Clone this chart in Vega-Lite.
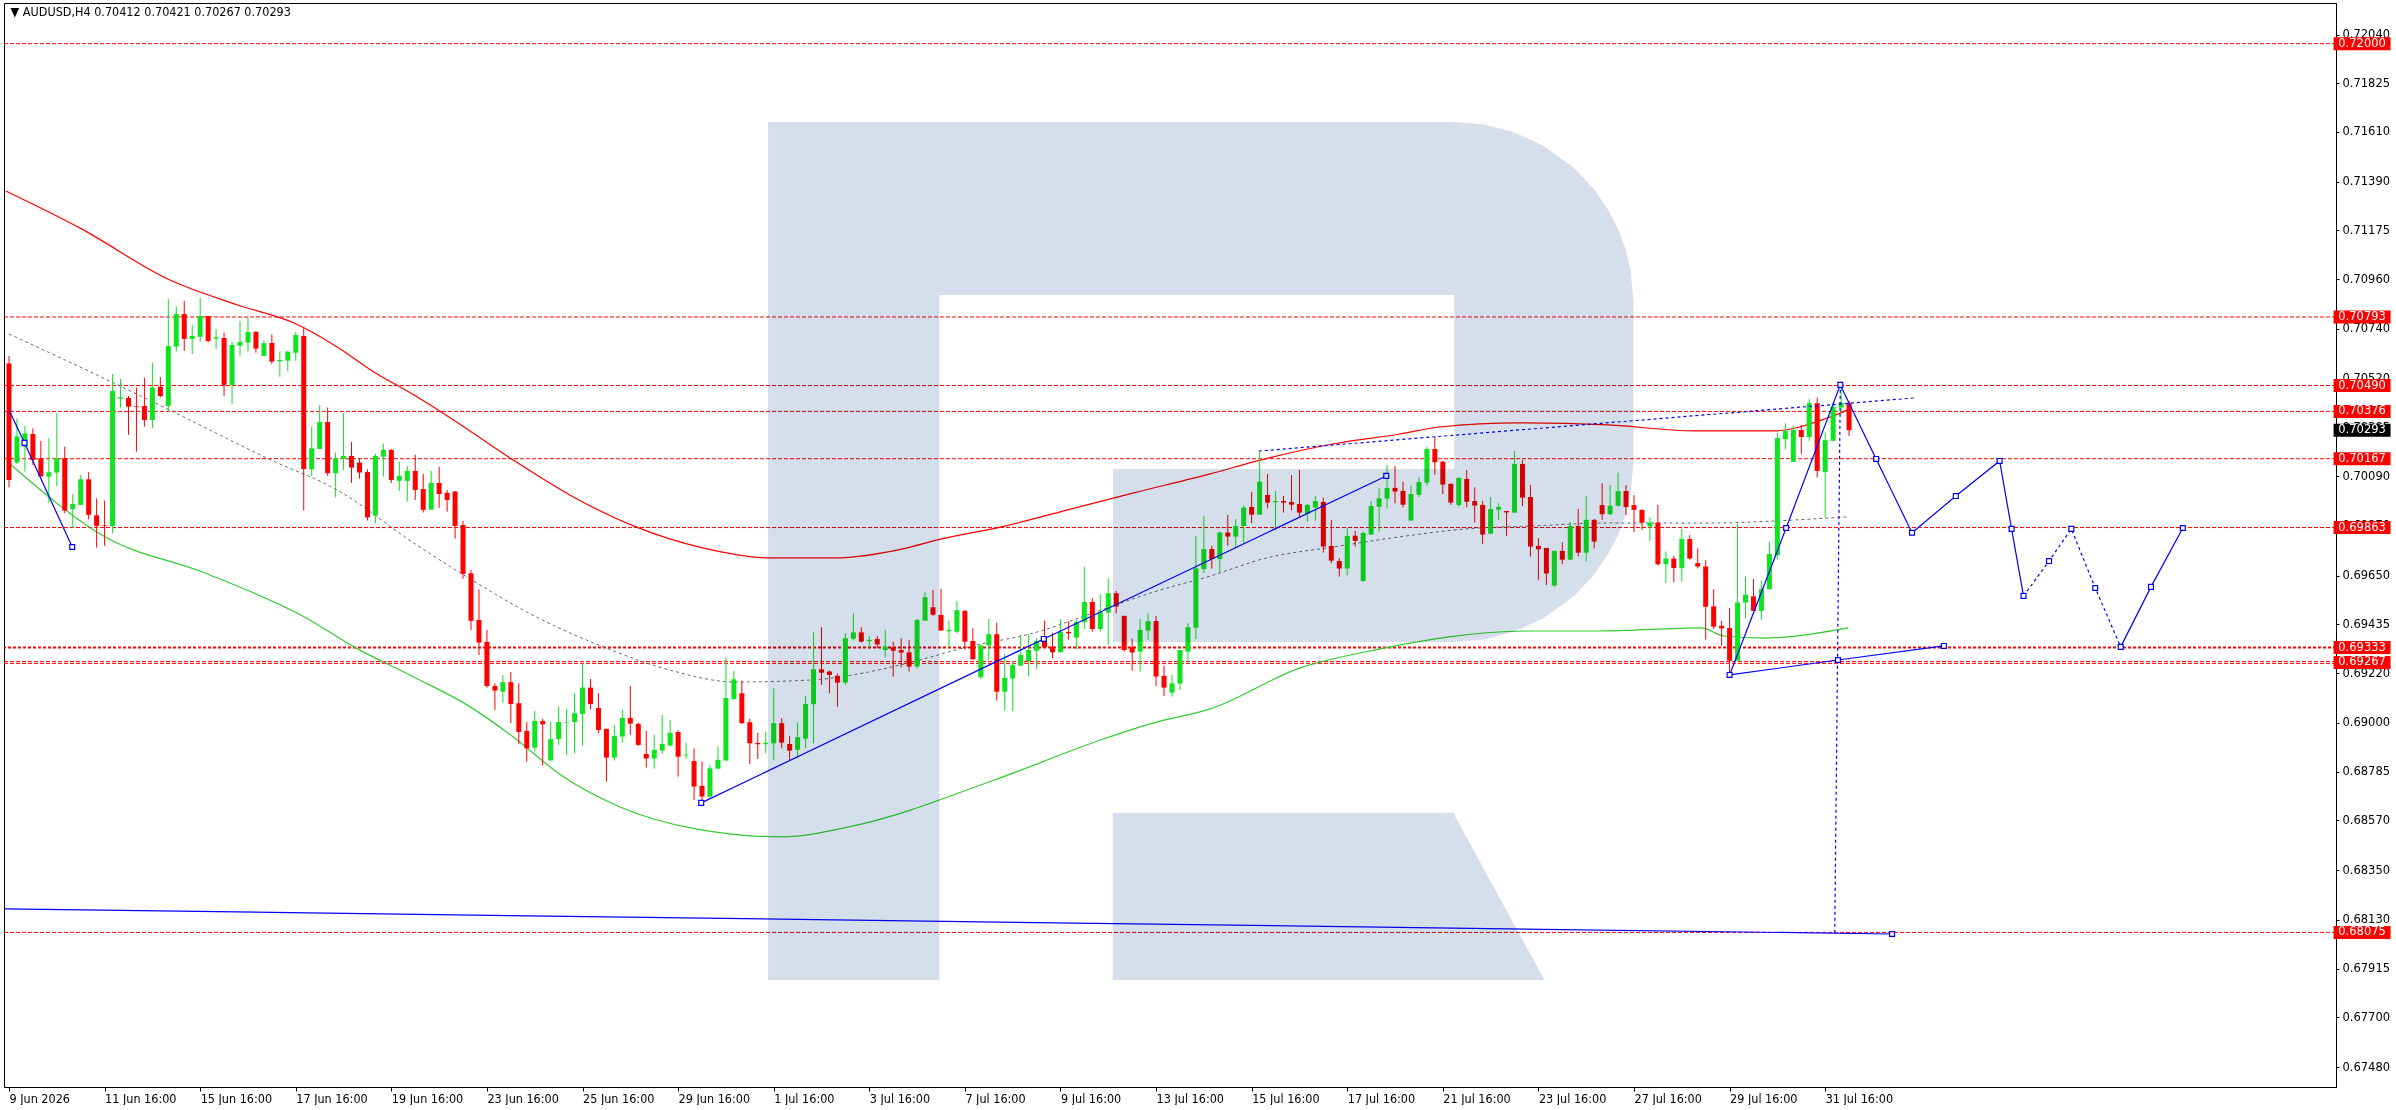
{
  "$schema": "https://vega.github.io/schema/vega-lite/v6.json",
  "description": "AUDUSD H4 candlestick chart with moving averages, levels and forecast path",
  "width": 2332,
  "height": 1084,
  "padding": {"left": 3, "top": 3, "right": 0, "bottom": 0},
  "background": "#ffffff",
  "config": {
    "view": {"stroke": "#000000", "strokeWidth": 1},
    "axis": {"grid": false, "domainColor": "#000000", "tickColor": "#000000", "labelColor": "#000000", "title": null}
  },
  "datasets": {
    "levels": [
      {"p": 0.72000}, {"p": 0.70793}, {"p": 0.70490}, {"p": 0.70376}, {"p": 0.70167},
      {"p": 0.69863}, {"p": 0.69271}, {"p": 0.69263}, {"p": 0.68075}
    ],
    "levelThick": [{"p": 0.69333}],
    "tags": [
      {"p": 0.72000, "k": "level"}, {"p": 0.70793, "k": "level"}, {"p": 0.70490, "k": "level"},
      {"p": 0.70376, "k": "level"}, {"p": 0.70293, "k": "bid"}, {"p": 0.70167, "k": "level"},
      {"p": 0.69863, "k": "level"}, {"p": 0.69333, "k": "level"}, {"p": 0.69267, "k": "level"},
      {"p": 0.68075, "k": "level"}
    ],
    "header": [{"t": "▼ AUDUSD,H4  0.70412 0.70421 0.70267 0.70293"}],
    "maRed": [
      {"i": -0.4, "p": 0.71349}, {"i": 9.1, "p": 0.71182}, {"i": 20.2, "p": 0.70956}, {"i": 28.7, "p": 0.70846},
      {"i": 35.8, "p": 0.70766}, {"i": 41.2, "p": 0.70660}, {"i": 45.4, "p": 0.70559}, {"i": 50.8, "p": 0.70449},
      {"i": 55.8, "p": 0.70338}, {"i": 63.3, "p": 0.70161}, {"i": 70.4, "p": 0.70007}, {"i": 78.7, "p": 0.69866},
      {"i": 87.1, "p": 0.69773}, {"i": 95.4, "p": 0.69729}, {"i": 103.7, "p": 0.69729}, {"i": 112.1, "p": 0.69768},
      {"i": 117.1, "p": 0.69813}, {"i": 124.6, "p": 0.69866}, {"i": 132.9, "p": 0.69941}, {"i": 141.2, "p": 0.70016},
      {"i": 150.8, "p": 0.70100}, {"i": 157.1, "p": 0.70161}, {"i": 166.2, "p": 0.70232}, {"i": 174.6, "p": 0.70276},
      {"i": 179.6, "p": 0.70307}, {"i": 189.6, "p": 0.70325}, {"i": 200.8, "p": 0.70316}, {"i": 211.6, "p": 0.70290},
      {"i": 221.6, "p": 0.70290}, {"i": 228.3, "p": 0.70347}, {"i": 231.2, "p": 0.70387}
    ],
    "maGreen": [
      {"i": 0, "p": 0.70148}, {"i": 12.1, "p": 0.69821}, {"i": 24.6, "p": 0.69662}, {"i": 37.1, "p": 0.69468},
      {"i": 43.3, "p": 0.69336}, {"i": 50.8, "p": 0.69203}, {"i": 57.9, "p": 0.69071}, {"i": 63.3, "p": 0.68938},
      {"i": 69.6, "p": 0.68762}, {"i": 76.7, "p": 0.68629}, {"i": 86.2, "p": 0.68532}, {"i": 96.9, "p": 0.68497},
      {"i": 106.6, "p": 0.68550}, {"i": 123.7, "p": 0.68748}, {"i": 137.4, "p": 0.68929}, {"i": 143.7, "p": 0.69000},
      {"i": 150.8, "p": 0.69062}, {"i": 162.1, "p": 0.69243}, {"i": 171.4, "p": 0.69322}, {"i": 190.6, "p": 0.69406},
      {"i": 199.6, "p": 0.69406}, {"i": 212.4, "p": 0.69420}, {"i": 215.3, "p": 0.69384}, {"i": 220.2, "p": 0.69375},
      {"i": 230.9, "p": 0.69420}
    ],
    "maGrey": [
      {"i": 0, "p": 0.70718}, {"i": 12.1, "p": 0.70519}, {"i": 20.4, "p": 0.70378}, {"i": 32.9, "p": 0.70161},
      {"i": 41.2, "p": 0.70029}, {"i": 50.8, "p": 0.69795}, {"i": 56.7, "p": 0.69662}, {"i": 66.2, "p": 0.69468},
      {"i": 74.6, "p": 0.69336}, {"i": 82.9, "p": 0.69234}, {"i": 91.2, "p": 0.69181}, {"i": 100.8, "p": 0.69190},
      {"i": 107.9, "p": 0.69225}, {"i": 112.9, "p": 0.69265}, {"i": 120.4, "p": 0.69336}, {"i": 128.7, "p": 0.69398},
      {"i": 137.1, "p": 0.69499}, {"i": 143.3, "p": 0.69574}, {"i": 150.8, "p": 0.69649}, {"i": 157.9, "p": 0.69729},
      {"i": 166.2, "p": 0.69777}, {"i": 174.6, "p": 0.69822}, {"i": 182.9, "p": 0.69857}, {"i": 191.2, "p": 0.69870},
      {"i": 200.8, "p": 0.69883}, {"i": 213.9, "p": 0.69883}, {"i": 221.6, "p": 0.69892}, {"i": 230.7, "p": 0.69910}
    ],
    "candles": [
      {"i":0,"o":0.70588,"h":0.70621,"l":0.70041,"c":0.70073},
      {"i":1,"o":0.70150,"h":0.70345,"l":0.70144,"c":0.70265},
      {"i":2,"o":0.70220,"h":0.70312,"l":0.70110,"c":0.70279},
      {"i":3,"o":0.70276,"h":0.70301,"l":0.70139,"c":0.70161},
      {"i":4,"o":0.70169,"h":0.70245,"l":0.70088,"c":0.70089},
      {"i":5,"o":0.70088,"h":0.70257,"l":0.69970,"c":0.70107},
      {"i":6,"o":0.70106,"h":0.70368,"l":0.70047,"c":0.70169},
      {"i":7,"o":0.70169,"h":0.70220,"l":0.69926,"c":0.69938},
      {"i":8,"o":0.69944,"h":0.70011,"l":0.69861,"c":0.69967},
      {"i":9,"o":0.69963,"h":0.70095,"l":0.69963,"c":0.70076},
      {"i":10,"o":0.70076,"h":0.70108,"l":0.69899,"c":0.69919},
      {"i":11,"o":0.69917,"h":0.69992,"l":0.69774,"c":0.69870},
      {"i":12,"o":0.69873,"h":0.69982,"l":0.69783,"c":0.69870},
      {"i":13,"o":0.69870,"h":0.70541,"l":0.69838,"c":0.70466},
      {"i":14,"o":0.70432,"h":0.70519,"l":0.70393,"c":0.70438},
      {"i":15,"o":0.70435,"h":0.70444,"l":0.70272,"c":0.70397},
      {"i":16,"o":0.70398,"h":0.70481,"l":0.70198,"c":0.70395},
      {"i":17,"o":0.70400,"h":0.70525,"l":0.70309,"c":0.70338},
      {"i":18,"o":0.70338,"h":0.70591,"l":0.70301,"c":0.70481},
      {"i":19,"o":0.70485,"h":0.70527,"l":0.70438,"c":0.70444},
      {"i":20,"o":0.70400,"h":0.70872,"l":0.70375,"c":0.70665},
      {"i":21,"o":0.70662,"h":0.70839,"l":0.70640,"c":0.70806},
      {"i":22,"o":0.70806,"h":0.70864,"l":0.70643,"c":0.70696},
      {"i":23,"o":0.70696,"h":0.70758,"l":0.70630,"c":0.70709},
      {"i":24,"o":0.70706,"h":0.70878,"l":0.70684,"c":0.70797},
      {"i":25,"o":0.70797,"h":0.70797,"l":0.70680,"c":0.70687},
      {"i":26,"o":0.70697,"h":0.70740,"l":0.70652,"c":0.70703},
      {"i":27,"o":0.70700,"h":0.70724,"l":0.70444,"c":0.70493},
      {"i":28,"o":0.70493,"h":0.70684,"l":0.70409,"c":0.70669},
      {"i":29,"o":0.70666,"h":0.70775,"l":0.70621,"c":0.70683},
      {"i":30,"o":0.70680,"h":0.70790,"l":0.70640,"c":0.70727},
      {"i":31,"o":0.70727,"h":0.70731,"l":0.70635,"c":0.70653},
      {"i":32,"o":0.70621,"h":0.70691,"l":0.70621,"c":0.70677},
      {"i":33,"o":0.70678,"h":0.70716,"l":0.70585,"c":0.70596},
      {"i":34,"o":0.70597,"h":0.70640,"l":0.70528,"c":0.70603},
      {"i":35,"o":0.70600,"h":0.70644,"l":0.70554,"c":0.70640},
      {"i":36,"o":0.70635,"h":0.70728,"l":0.70599,"c":0.70713},
      {"i":37,"o":0.70709,"h":0.70743,"l":0.69938,"c":0.70122},
      {"i":38,"o":0.70120,"h":0.70309,"l":0.70091,"c":0.70213},
      {"i":39,"o":0.70210,"h":0.70404,"l":0.70210,"c":0.70329},
      {"i":40,"o":0.70329,"h":0.70393,"l":0.70091,"c":0.70103},
      {"i":41,"o":0.70103,"h":0.70194,"l":0.69997,"c":0.70169},
      {"i":42,"o":0.70166,"h":0.70368,"l":0.70117,"c":0.70179},
      {"i":43,"o":0.70179,"h":0.70241,"l":0.70060,"c":0.70128},
      {"i":44,"o":0.70150,"h":0.70169,"l":0.70079,"c":0.70106},
      {"i":45,"o":0.70108,"h":0.70120,"l":0.69894,"c":0.69908},
      {"i":46,"o":0.69916,"h":0.70189,"l":0.69882,"c":0.70179},
      {"i":47,"o":0.70176,"h":0.70234,"l":0.70088,"c":0.70206},
      {"i":48,"o":0.70206,"h":0.70210,"l":0.70060,"c":0.70073},
      {"i":49,"o":0.70069,"h":0.70154,"l":0.70025,"c":0.70091},
      {"i":50,"o":0.70069,"h":0.70135,"l":0.69978,"c":0.70113},
      {"i":51,"o":0.70113,"h":0.70184,"l":0.69985,"c":0.70029},
      {"i":52,"o":0.70033,"h":0.70100,"l":0.69929,"c":0.69941},
      {"i":53,"o":0.69942,"h":0.70113,"l":0.69942,"c":0.70060},
      {"i":54,"o":0.70060,"h":0.70131,"l":0.69950,"c":0.70011},
      {"i":55,"o":0.70016,"h":0.70029,"l":0.69933,"c":0.69985},
      {"i":56,"o":0.70022,"h":0.70025,"l":0.69814,"c":0.69870},
      {"i":57,"o":0.69874,"h":0.69892,"l":0.69637,"c":0.69658},
      {"i":58,"o":0.69661,"h":0.69676,"l":0.69411,"c":0.69451},
      {"i":59,"o":0.69455,"h":0.69590,"l":0.69300,"c":0.69355},
      {"i":60,"o":0.69358,"h":0.69411,"l":0.69156,"c":0.69163},
      {"i":61,"o":0.69163,"h":0.69175,"l":0.69058,"c":0.69143},
      {"i":62,"o":0.69138,"h":0.69211,"l":0.69090,"c":0.69180},
      {"i":63,"o":0.69180,"h":0.69225,"l":0.68999,"c":0.69084},
      {"i":64,"o":0.69087,"h":0.69175,"l":0.68907,"c":0.68960},
      {"i":65,"o":0.68965,"h":0.69005,"l":0.68829,"c":0.68888},
      {"i":66,"o":0.68891,"h":0.69053,"l":0.68874,"c":0.69009},
      {"i":67,"o":0.69009,"h":0.69018,"l":0.68812,"c":0.68994},
      {"i":68,"o":0.68834,"h":0.69006,"l":0.68834,"c":0.68928},
      {"i":69,"o":0.68929,"h":0.69072,"l":0.68903,"c":0.69004},
      {"i":70,"o":0.69002,"h":0.69062,"l":0.68857,"c":0.69004},
      {"i":71,"o":0.69004,"h":0.69131,"l":0.68866,"c":0.69043},
      {"i":72,"o":0.69040,"h":0.69264,"l":0.68900,"c":0.69156},
      {"i":73,"o":0.69156,"h":0.69194,"l":0.69060,"c":0.69084},
      {"i":74,"o":0.69066,"h":0.69131,"l":0.68954,"c":0.68969},
      {"i":75,"o":0.68974,"h":0.68974,"l":0.68741,"c":0.68847},
      {"i":76,"o":0.68847,"h":0.68991,"l":0.68834,"c":0.68943},
      {"i":77,"o":0.68940,"h":0.69058,"l":0.68913,"c":0.69022},
      {"i":78,"o":0.69022,"h":0.69163,"l":0.68947,"c":0.68997},
      {"i":79,"o":0.68996,"h":0.69002,"l":0.68899,"c":0.68903},
      {"i":80,"o":0.68863,"h":0.68965,"l":0.68803,"c":0.68843},
      {"i":81,"o":0.68843,"h":0.68947,"l":0.68798,"c":0.68881},
      {"i":82,"o":0.68878,"h":0.69035,"l":0.68863,"c":0.68907},
      {"i":83,"o":0.68900,"h":0.69013,"l":0.68896,"c":0.68956},
      {"i":84,"o":0.68960,"h":0.68969,"l":0.68763,"c":0.68851},
      {"i":85,"o":0.68857,"h":0.68913,"l":0.68843,"c":0.68860},
      {"i":86,"o":0.68832,"h":0.68888,"l":0.68660,"c":0.68719},
      {"i":87,"o":0.68722,"h":0.68829,"l":0.68653,"c":0.68675},
      {"i":88,"o":0.68675,"h":0.68815,"l":0.68670,"c":0.68800},
      {"i":89,"o":0.68798,"h":0.68896,"l":0.68798,"c":0.68837},
      {"i":90,"o":0.68834,"h":0.69290,"l":0.68834,"c":0.69110},
      {"i":91,"o":0.69106,"h":0.69230,"l":0.69102,"c":0.69193},
      {"i":92,"o":0.69131,"h":0.69186,"l":0.68996,"c":0.68999},
      {"i":93,"o":0.69003,"h":0.69018,"l":0.68818,"c":0.68910},
      {"i":94,"o":0.68912,"h":0.68957,"l":0.68841,"c":0.68906},
      {"i":95,"o":0.68906,"h":0.68962,"l":0.68866,"c":0.68912},
      {"i":96,"o":0.68910,"h":0.69153,"l":0.68837,"c":0.68999},
      {"i":97,"o":0.68999,"h":0.69021,"l":0.68888,"c":0.68913},
      {"i":98,"o":0.68907,"h":0.68943,"l":0.68834,"c":0.68878},
      {"i":99,"o":0.68881,"h":0.69003,"l":0.68844,"c":0.68937},
      {"i":100,"o":0.68931,"h":0.69120,"l":0.68888,"c":0.69084},
      {"i":101,"o":0.69083,"h":0.69400,"l":0.68910,"c":0.69237},
      {"i":102,"o":0.69237,"h":0.69423,"l":0.69168,"c":0.69222},
      {"i":103,"o":0.69227,"h":0.69231,"l":0.69131,"c":0.69212},
      {"i":104,"o":0.69208,"h":0.69219,"l":0.69072,"c":0.69178},
      {"i":105,"o":0.69178,"h":0.69396,"l":0.69168,"c":0.69374},
      {"i":106,"o":0.69372,"h":0.69484,"l":0.69364,"c":0.69400},
      {"i":107,"o":0.69400,"h":0.69423,"l":0.69355,"c":0.69359},
      {"i":108,"o":0.69361,"h":0.69384,"l":0.69333,"c":0.69367},
      {"i":109,"o":0.69371,"h":0.69384,"l":0.69330,"c":0.69347},
      {"i":110,"o":0.69322,"h":0.69411,"l":0.69290,"c":0.69337},
      {"i":111,"o":0.69334,"h":0.69359,"l":0.69205,"c":0.69319},
      {"i":112,"o":0.69322,"h":0.69374,"l":0.69246,"c":0.69311},
      {"i":113,"o":0.69312,"h":0.69367,"l":0.69227,"c":0.69249},
      {"i":114,"o":0.69249,"h":0.69459,"l":0.69241,"c":0.69455},
      {"i":115,"o":0.69452,"h":0.69579,"l":0.69452,"c":0.69555},
      {"i":116,"o":0.69511,"h":0.69587,"l":0.69473,"c":0.69478},
      {"i":117,"o":0.69477,"h":0.69592,"l":0.69408,"c":0.69408},
      {"i":118,"o":0.69405,"h":0.69452,"l":0.69334,"c":0.69411},
      {"i":119,"o":0.69403,"h":0.69539,"l":0.69396,"c":0.69498},
      {"i":120,"o":0.69495,"h":0.69499,"l":0.69325,"c":0.69359},
      {"i":121,"o":0.69362,"h":0.69418,"l":0.69281,"c":0.69281},
      {"i":122,"o":0.69202,"h":0.69345,"l":0.69193,"c":0.69342},
      {"i":123,"o":0.69342,"h":0.69459,"l":0.69278,"c":0.69392},
      {"i":124,"o":0.69392,"h":0.69443,"l":0.69099,"c":0.69138},
      {"i":125,"o":0.69138,"h":0.69305,"l":0.69055,"c":0.69199},
      {"i":126,"o":0.69196,"h":0.69271,"l":0.69053,"c":0.69255},
      {"i":127,"o":0.69253,"h":0.69389,"l":0.69253,"c":0.69300},
      {"i":128,"o":0.69274,"h":0.69392,"l":0.69205,"c":0.69322},
      {"i":129,"o":0.69319,"h":0.69374,"l":0.69237,"c":0.69362},
      {"i":130,"o":0.69378,"h":0.69452,"l":0.69334,"c":0.69334},
      {"i":131,"o":0.69337,"h":0.69399,"l":0.69286,"c":0.69312},
      {"i":132,"o":0.69312,"h":0.69459,"l":0.69312,"c":0.69403},
      {"i":133,"o":0.69402,"h":0.69450,"l":0.69367,"c":0.69396},
      {"i":134,"o":0.69377,"h":0.69455,"l":0.69325,"c":0.69446},
      {"i":135,"o":0.69445,"h":0.69690,"l":0.69415,"c":0.69534},
      {"i":136,"o":0.69534,"h":0.69551,"l":0.69403,"c":0.69415},
      {"i":137,"o":0.69415,"h":0.69568,"l":0.69403,"c":0.69489},
      {"i":138,"o":0.69487,"h":0.69639,"l":0.69345,"c":0.69573},
      {"i":139,"o":0.69573,"h":0.69583,"l":0.69484,"c":0.69514},
      {"i":140,"o":0.69473,"h":0.69473,"l":0.69315,"c":0.69322},
      {"i":141,"o":0.69334,"h":0.69372,"l":0.69231,"c":0.69311},
      {"i":142,"o":0.69315,"h":0.69459,"l":0.69227,"c":0.69411},
      {"i":143,"o":0.69408,"h":0.69484,"l":0.69367,"c":0.69450},
      {"i":144,"o":0.69450,"h":0.69473,"l":0.69163,"c":0.69205},
      {"i":145,"o":0.69208,"h":0.69253,"l":0.69119,"c":0.69156},
      {"i":146,"o":0.69134,"h":0.69212,"l":0.69116,"c":0.69175},
      {"i":147,"o":0.69174,"h":0.69322,"l":0.69146,"c":0.69322},
      {"i":148,"o":0.69315,"h":0.69440,"l":0.69264,"c":0.69423},
      {"i":149,"o":0.69421,"h":0.69826,"l":0.69370,"c":0.69683},
      {"i":150,"o":0.69680,"h":0.69914,"l":0.69661,"c":0.69768},
      {"i":151,"o":0.69768,"h":0.69782,"l":0.69682,"c":0.69724},
      {"i":152,"o":0.69724,"h":0.69845,"l":0.69664,"c":0.69841},
      {"i":153,"o":0.69841,"h":0.69919,"l":0.69783,"c":0.69823},
      {"i":154,"o":0.69823,"h":0.69901,"l":0.69771,"c":0.69870},
      {"i":155,"o":0.69870,"h":0.69961,"l":0.69791,"c":0.69951},
      {"i":156,"o":0.69954,"h":0.70020,"l":0.69882,"c":0.69920},
      {"i":157,"o":0.69920,"h":0.70201,"l":0.69920,"c":0.70066},
      {"i":158,"o":0.70007,"h":0.70100,"l":0.69948,"c":0.69973},
      {"i":159,"o":0.69975,"h":0.70025,"l":0.69852,"c":0.69980},
      {"i":160,"o":0.69980,"h":0.70003,"l":0.69929,"c":0.69973},
      {"i":161,"o":0.69976,"h":0.70095,"l":0.69938,"c":0.69964},
      {"i":162,"o":0.69967,"h":0.70117,"l":0.69911,"c":0.69929},
      {"i":163,"o":0.69923,"h":0.69967,"l":0.69889,"c":0.69963},
      {"i":164,"o":0.69952,"h":0.70003,"l":0.69894,"c":0.69980},
      {"i":165,"o":0.69976,"h":0.69995,"l":0.69752,"c":0.69779},
      {"i":166,"o":0.69782,"h":0.69897,"l":0.69705,"c":0.69717},
      {"i":167,"o":0.69715,"h":0.69727,"l":0.69646,"c":0.69682},
      {"i":168,"o":0.69682,"h":0.69860,"l":0.69651,"c":0.69826},
      {"i":169,"o":0.69827,"h":0.69849,"l":0.69779,"c":0.69804},
      {"i":170,"o":0.69627,"h":0.69845,"l":0.69624,"c":0.69839},
      {"i":171,"o":0.69832,"h":0.69980,"l":0.69832,"c":0.69958},
      {"i":172,"o":0.69955,"h":0.70036,"l":0.69845,"c":0.69992},
      {"i":173,"o":0.69991,"h":0.70139,"l":0.69947,"c":0.70038},
      {"i":174,"o":0.70038,"h":0.70135,"l":0.69970,"c":0.70022},
      {"i":175,"o":0.70025,"h":0.70066,"l":0.69952,"c":0.69964},
      {"i":176,"o":0.69894,"h":0.70047,"l":0.69894,"c":0.70011},
      {"i":177,"o":0.70008,"h":0.70085,"l":0.69997,"c":0.70064},
      {"i":178,"o":0.70061,"h":0.70220,"l":0.70048,"c":0.70210},
      {"i":179,"o":0.70210,"h":0.70262,"l":0.70097,"c":0.70151},
      {"i":180,"o":0.70154,"h":0.70157,"l":0.70011,"c":0.70053},
      {"i":181,"o":0.70056,"h":0.70058,"l":0.69963,"c":0.69973},
      {"i":182,"o":0.69963,"h":0.70085,"l":0.69955,"c":0.70082},
      {"i":183,"o":0.70078,"h":0.70117,"l":0.69952,"c":0.69977},
      {"i":184,"o":0.69980,"h":0.70041,"l":0.69885,"c":0.69960},
      {"i":185,"o":0.69963,"h":0.69980,"l":0.69791,"c":0.69832},
      {"i":186,"o":0.69836,"h":0.69997,"l":0.69834,"c":0.69945},
      {"i":187,"o":0.69942,"h":0.69970,"l":0.69897,"c":0.69954},
      {"i":188,"o":0.69936,"h":0.69936,"l":0.69826,"c":0.69930},
      {"i":189,"o":0.69929,"h":0.70201,"l":0.69929,"c":0.70144},
      {"i":190,"o":0.70144,"h":0.70161,"l":0.69958,"c":0.69995},
      {"i":191,"o":0.69998,"h":0.70051,"l":0.69735,"c":0.69779},
      {"i":192,"o":0.69782,"h":0.69816,"l":0.69632,"c":0.69767},
      {"i":193,"o":0.69773,"h":0.69773,"l":0.69609,"c":0.69660},
      {"i":194,"o":0.69607,"h":0.69760,"l":0.69602,"c":0.69760},
      {"i":195,"o":0.69760,"h":0.69798,"l":0.69702,"c":0.69721},
      {"i":196,"o":0.69721,"h":0.69888,"l":0.69720,"c":0.69870},
      {"i":197,"o":0.69870,"h":0.69945,"l":0.69735,"c":0.69752},
      {"i":198,"o":0.69752,"h":0.70003,"l":0.69713,"c":0.69897},
      {"i":199,"o":0.69897,"h":0.69901,"l":0.69771,"c":0.69801},
      {"i":200,"o":0.69962,"h":0.70059,"l":0.69897,"c":0.69922},
      {"i":201,"o":0.69922,"h":0.70050,"l":0.69919,"c":0.69959},
      {"i":202,"o":0.69959,"h":0.70106,"l":0.69956,"c":0.70024},
      {"i":203,"o":0.70024,"h":0.70050,"l":0.69918,"c":0.69954},
      {"i":204,"o":0.69962,"h":0.70006,"l":0.69844,"c":0.69941},
      {"i":205,"o":0.69941,"h":0.69944,"l":0.69853,"c":0.69885},
      {"i":206,"o":0.69868,"h":0.69907,"l":0.69804,"c":0.69885},
      {"i":207,"o":0.69885,"h":0.69963,"l":0.69694,"c":0.69701},
      {"i":208,"o":0.69701,"h":0.69757,"l":0.69618,"c":0.69726},
      {"i":209,"o":0.69726,"h":0.69738,"l":0.69621,"c":0.69684},
      {"i":210,"o":0.69684,"h":0.69856,"l":0.69624,"c":0.69812},
      {"i":211,"o":0.69812,"h":0.69829,"l":0.69721,"c":0.69726},
      {"i":212,"o":0.69706,"h":0.69771,"l":0.69682,"c":0.69691},
      {"i":213,"o":0.69691,"h":0.69719,"l":0.69368,"c":0.69513},
      {"i":214,"o":0.69515,"h":0.69591,"l":0.69415,"c":0.69425},
      {"i":215,"o":0.69429,"h":0.69451,"l":0.69341,"c":0.69418},
      {"i":216,"o":0.69419,"h":0.69507,"l":0.69223,"c":0.69275},
      {"i":217,"o":0.69275,"h":0.69881,"l":0.69272,"c":0.69532},
      {"i":218,"o":0.69532,"h":0.69647,"l":0.69462,"c":0.69566},
      {"i":219,"o":0.69559,"h":0.69635,"l":0.69495,"c":0.69495},
      {"i":220,"o":0.69495,"h":0.69628,"l":0.69456,"c":0.69591},
      {"i":221,"o":0.69591,"h":0.69800,"l":0.69588,"c":0.69746},
      {"i":222,"o":0.69741,"h":0.70280,"l":0.69721,"c":0.70258},
      {"i":223,"o":0.70253,"h":0.70324,"l":0.70209,"c":0.70290},
      {"i":224,"o":0.70153,"h":0.70312,"l":0.70153,"c":0.70294},
      {"i":225,"o":0.70294,"h":0.70316,"l":0.70187,"c":0.70263},
      {"i":226,"o":0.70263,"h":0.70430,"l":0.70246,"c":0.70412},
      {"i":227,"o":0.70412,"h":0.70437,"l":0.70084,"c":0.70113},
      {"i":228,"o":0.70109,"h":0.70282,"l":0.69907,"c":0.70249},
      {"i":229,"o":0.70246,"h":0.70419,"l":0.70246,"c":0.70397},
      {"i":230,"o":0.70393,"h":0.70496,"l":0.70371,"c":0.70415},
      {"i":231,"o":0.70412,"h":0.70421,"l":0.70267,"c":0.70293}
    ],
    "blueSolid": [
      {"g": 1, "i": 0, "p": 0.70382}, {"g": 1, "i": 1.94, "p": 0.70237}, {"g": 1, "i": 7.94, "p": 0.69777},
      {"g": 2, "i": 86.9, "p": 0.68647}, {"g": 2, "i": 129.9, "p": 0.69371}, {"g": 2, "i": 172.9, "p": 0.70091},
      {"g": 3, "i": 216, "p": 0.69212}, {"g": 3, "i": 223.1, "p": 0.69861}, {"g": 3, "i": 229.9, "p": 0.70493},
      {"g": 4, "i": 229.9, "p": 0.70493}, {"g": 4, "i": 234.4, "p": 0.70166}, {"g": 4, "i": 238.9, "p": 0.69840},
      {"g": 4, "i": 244.4, "p": 0.70002}, {"g": 4, "i": 249.9, "p": 0.70157}, {"g": 4, "i": 251.4, "p": 0.69857},
      {"g": 4, "i": 252.9, "p": 0.69561},
      {"g": 5, "i": 265.1, "p": 0.69336}, {"g": 5, "i": 268.9, "p": 0.69601}, {"g": 5, "i": 272.9, "p": 0.69861},
      {"g": 6, "i": 216, "p": 0.69212}, {"g": 6, "i": 229.6, "p": 0.69278}, {"g": 6, "i": 242.9, "p": 0.69340},
      {"g": 7, "i": -0.5, "p": 0.68179}, {"g": 7, "i": 236.4, "p": 0.68068}
    ],
    "blueDash": [
      {"g": 1, "i": 156.9, "p": 0.70201}, {"g": 1, "i": 239.1, "p": 0.70435},
      {"g": 2, "i": 252.9, "p": 0.69561}, {"g": 2, "i": 256.1, "p": 0.69715}, {"g": 2, "i": 258.9, "p": 0.69857},
      {"g": 2, "i": 261.9, "p": 0.69596}, {"g": 2, "i": 265.1, "p": 0.69336},
      {"g": 3, "i": 229.2, "p": 0.68073}, {"g": 3, "i": 229.9, "p": 0.70493}
    ],
    "blueMarks": [
      {"i": 1.94, "p": 0.70237}, {"i": 7.94, "p": 0.69777}, {"i": 86.9, "p": 0.68647}, {"i": 129.9, "p": 0.69371},
      {"i": 172.9, "p": 0.70091}, {"i": 216, "p": 0.69212}, {"i": 223.1, "p": 0.69861}, {"i": 229.9, "p": 0.70493},
      {"i": 234.4, "p": 0.70166}, {"i": 238.9, "p": 0.69840}, {"i": 244.4, "p": 0.70002}, {"i": 249.9, "p": 0.70157},
      {"i": 251.4, "p": 0.69857}, {"i": 252.9, "p": 0.69561}, {"i": 256.1, "p": 0.69715}, {"i": 258.9, "p": 0.69857},
      {"i": 261.9, "p": 0.69596}, {"i": 265.1, "p": 0.69336}, {"i": 268.9, "p": 0.69601}, {"i": 272.9, "p": 0.69861},
      {"i": 229.6, "p": 0.69278}, {"i": 242.9, "p": 0.69340}, {"i": 236.4, "p": 0.68068}
    ],
    "logoRect": [
      {"i": 95.3, "i2": 116.8, "p": 0.67865, "p2": 0.71654},
      {"i": 116.8, "i2": 181.44, "p": 0.70890, "p2": 0.71654},
      {"i": 138.6, "i2": 181.44, "p": 0.69358, "p2": 0.70122}
    ],
    "logoBowl": [
      {"i": 181.44, "p": 0.69358, "p2": 0.71654}, {"i": 185.19, "p": 0.69369, "p2": 0.71643},
      {"i": 188.94, "p": 0.69403, "p2": 0.71609}, {"i": 192.69, "p": 0.69464, "p2": 0.71548},
      {"i": 196.44, "p": 0.69560, "p2": 0.71452}, {"i": 198.94, "p": 0.69653, "p2": 0.71359},
      {"i": 200.81, "p": 0.69749, "p2": 0.71263}, {"i": 202.06, "p": 0.69835, "p2": 0.71177},
      {"i": 202.94, "p": 0.69918, "p2": 0.71094}, {"i": 203.56, "p": 0.70008, "p2": 0.71004},
      {"i": 203.94, "p": 0.70153, "p2": 0.70859}
    ],
    "logoLeg": [
      {"p": 0.68603, "i": 138.56, "i2": 181.3},
      {"p": 0.67865, "i": 138.56, "i2": 192.76}
    ]
  },
  "layer": [
    {
      "data": {"name": "levels"},
      "mark": {"type": "rule", "color": "#ff0000", "strokeWidth": 1, "strokeDash": [4, 2]},
      "encoding": {
        "y": {
          "field": "p", "type": "quantitative", "title": null,
          "scale": {"domain": [0.673922, 0.721796], "nice": false, "zero": false},
          "axis": {
            "orient": "right", "title": null,
            "values": [0.72040, 0.71825, 0.71610, 0.71390, 0.71175, 0.70960, 0.70740, 0.70520, 0.70305, 0.70090, 0.69870, 0.69650, 0.69435, 0.69220, 0.69000, 0.68785, 0.68570, 0.68350, 0.68130, 0.67915, 0.67700, 0.67480],
            "format": ".5f", "labelFont": "DejaVu Sans", "labelFontSize": 11.5,
            "tickSize": 3, "labelPadding": 3, "labelOverlap": false, "labelBound": false
          }
        }
      }
    },
    {
      "data": {"name": "levelThick"},
      "mark": {"type": "rule", "color": "#ff0000", "strokeWidth": 2, "strokeDash": [3, 2]},
      "encoding": {"y": {"field": "p", "type": "quantitative", "title": null}}
    },
    {
      "data": {"name": "maGrey"},
      "mark": {"type": "line", "color": "#6b6b6b", "strokeWidth": 1, "strokeDash": [3, 3], "interpolate": "monotone", "clip": true},
      "encoding": {
        "x": {
          "field": "i", "type": "quantitative", "title": null,
          "scale": {"domain": [0, 291.5], "nice": false, "zero": false},
          "axis": {
            "orient": "bottom", "title": null,
            "values": [0, 12, 24, 36, 48, 60, 72, 84, 96, 108, 120, 132, 144, 156, 168, 180, 192, 204, 216, 228],
            "labelExpr": "['9 Jun 2026','11 Jun 16:00','15 Jun 16:00','17 Jun 16:00','19 Jun 16:00','23 Jun 16:00','25 Jun 16:00','29 Jun 16:00','1 Jul 16:00','3 Jul 16:00','7 Jul 16:00','9 Jul 16:00','13 Jul 16:00','15 Jul 16:00','17 Jul 16:00','21 Jul 16:00','23 Jul 16:00','27 Jul 16:00','29 Jul 16:00','31 Jul 16:00'][round(datum.value / 12)]",
            "labelAlign": "left", "labelBaseline": "top", "labelFont": "DejaVu Sans Condensed", "labelFontSize": 12.5,
            "tickSize": 4, "labelPadding": 1, "labelOverlap": false, "labelFlush": false, "labelBound": false
          }
        },
        "y": {"field": "p", "type": "quantitative", "title": null}
      }
    },
    {
      "data": {"name": "maGreen"},
      "mark": {"type": "line", "color": "#32cd32", "strokeWidth": 1.2, "interpolate": "monotone", "clip": true},
      "encoding": {
        "x": {"field": "i", "type": "quantitative", "title": null},
        "y": {"field": "p", "type": "quantitative", "title": null}
      }
    },
    {
      "data": {"name": "maRed"},
      "mark": {"type": "line", "color": "#ff0000", "strokeWidth": 1.2, "interpolate": "monotone", "clip": true},
      "encoding": {
        "x": {"field": "i", "type": "quantitative", "title": null},
        "y": {"field": "p", "type": "quantitative", "title": null}
      }
    },
    {
      "data": {"name": "candles"},
      "mark": {"type": "rule", "strokeWidth": 1, "clip": true},
      "encoding": {
        "x": {"field": "i", "type": "quantitative", "title": null},
        "y": {"field": "l", "type": "quantitative", "title": null},
        "y2": {"field": "h"},
        "color": {"condition": {"test": "datum.c >= datum.o", "value": "#0ee41f"}, "value": "#ff0000"}
      }
    },
    {
      "data": {"name": "candles"},
      "mark": {"type": "bar", "width": 5, "clip": true},
      "encoding": {
        "x": {"field": "i", "type": "quantitative", "title": null},
        "y": {"field": "o", "type": "quantitative", "title": null},
        "y2": {"field": "c"},
        "color": {"condition": {"test": "datum.c >= datum.o", "value": "#0ee41f"}, "value": "#ff0000"}
      }
    },
    {
      "data": {"name": "blueSolid"},
      "mark": {"type": "line", "color": "#0000ff", "strokeWidth": 1.2, "clip": true},
      "encoding": {
        "x": {"field": "i", "type": "quantitative", "title": null},
        "y": {"field": "p", "type": "quantitative", "title": null},
        "detail": {"field": "g"}
      }
    },
    {
      "data": {"name": "blueDash"},
      "mark": {"type": "line", "color": "#0000ff", "strokeWidth": 1.2, "strokeDash": [3, 3], "clip": true},
      "encoding": {
        "x": {"field": "i", "type": "quantitative", "title": null},
        "y": {"field": "p", "type": "quantitative", "title": null},
        "detail": {"field": "g"}
      }
    },
    {
      "data": {"name": "blueMarks"},
      "mark": {"type": "point", "shape": "square", "size": 24, "filled": true, "fill": "#ffffff", "stroke": "#0000ff", "strokeWidth": 1.2, "opacity": 1},
      "encoding": {
        "x": {"field": "i", "type": "quantitative", "title": null},
        "y": {"field": "p", "type": "quantitative", "title": null}
      }
    },
    {
      "data": {"name": "logoRect"},
      "mark": {"type": "rect", "color": "#d5dfeb", "blend": "multiply"},
      "encoding": {
        "x": {"field": "i", "type": "quantitative", "title": null},
        "x2": {"field": "i2"},
        "y": {"field": "p", "type": "quantitative", "title": null},
        "y2": {"field": "p2"}
      }
    },
    {
      "data": {"name": "logoBowl"},
      "mark": {"type": "area", "color": "#d5dfeb", "blend": "multiply"},
      "encoding": {
        "x": {"field": "i", "type": "quantitative", "title": null},
        "y": {"field": "p", "type": "quantitative", "title": null},
        "y2": {"field": "p2"}
      }
    },
    {
      "data": {"name": "logoLeg"},
      "mark": {"type": "area", "orient": "horizontal", "color": "#d5dfeb", "blend": "multiply"},
      "encoding": {
        "y": {"field": "p", "type": "quantitative", "title": null},
        "x": {"field": "i", "type": "quantitative", "title": null},
        "x2": {"field": "i2"}
      }
    },
    {
      "data": {"name": "header"},
      "mark": {"type": "text", "align": "left", "baseline": "middle", "font": "DejaVu Sans Condensed", "fontSize": 12.5, "color": "#000000"},
      "encoding": {
        "x": {"datum": 0.2, "type": "quantitative", "title": null},
        "y": {"datum": 0.72140, "type": "quantitative", "title": null},
        "text": {"field": "t"}
      }
    },
    {
      "data": {"name": "tags"},
      "mark": {"type": "tick", "orient": "horizontal", "size": 57, "thickness": 13, "opacity": 1},
      "encoding": {
        "x": {"datum": 295.4, "type": "quantitative", "title": null},
        "y": {"field": "p", "type": "quantitative", "title": null},
        "color": {"field": "k", "type": "nominal", "scale": {"domain": ["level", "bid"], "range": ["#ff0000", "#000000"]}, "legend": null}
      }
    },
    {
      "data": {"name": "tags"},
      "mark": {"type": "text", "align": "center", "baseline": "middle", "font": "DejaVu Sans", "fontSize": 11.5, "color": "#ffffff"},
      "encoding": {
        "x": {"datum": 295.4, "type": "quantitative", "title": null},
        "y": {"field": "p", "type": "quantitative", "title": null},
        "text": {"field": "p", "type": "quantitative", "format": ".5f"}
      }
    }
  ]
}
